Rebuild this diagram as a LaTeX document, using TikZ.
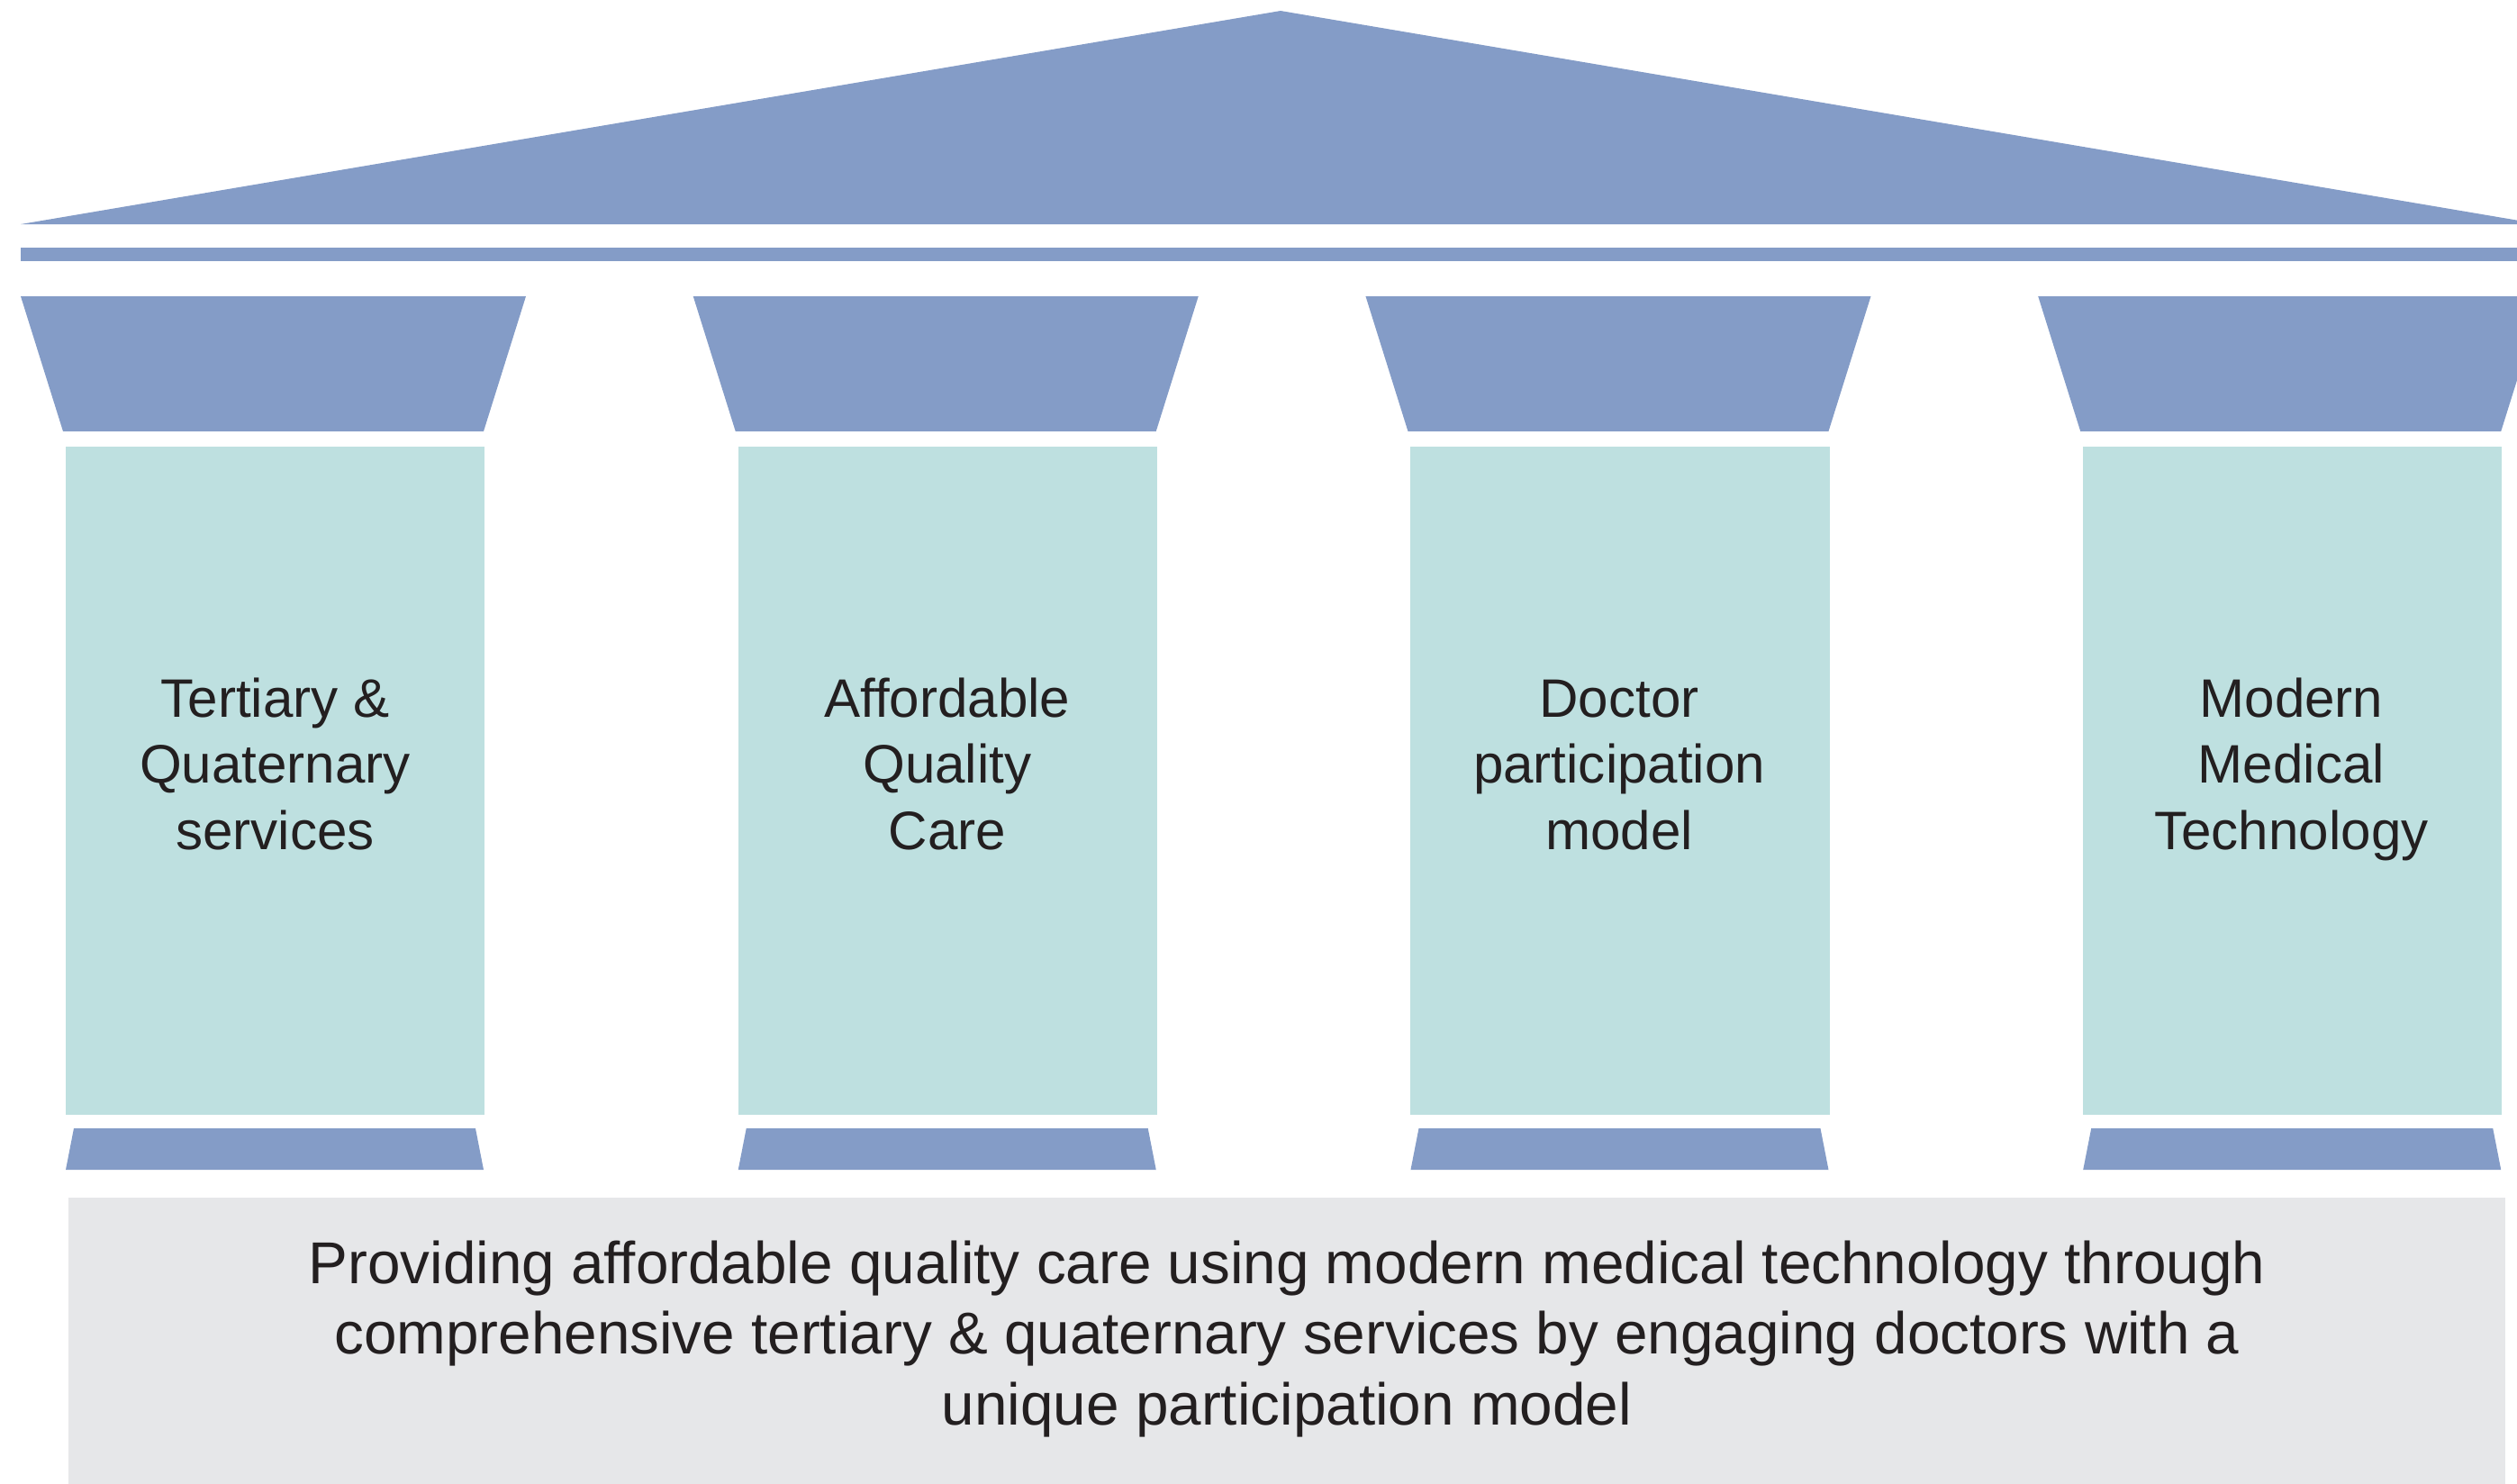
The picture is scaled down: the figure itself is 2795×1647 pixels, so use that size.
\documentclass[tikz,border=0pt]{standalone}
\usepackage{fontspec}
\setmainfont{Liberation Sans}
\definecolor{roofblue}{HTML}{849CC7}
\definecolor{shaft}{HTML}{BEE0E0}
\definecolor{basegrey}{HTML}{E6E7E9}
\definecolor{ink}{HTML}{231F20}
\begin{document}
\begin{tikzpicture}[x=0.01cm,y=-0.01cm,
  bluepart/.style={fill=roofblue,draw=none},
  shaftpart/.style={fill=shaft,draw=none},
  pillarlabel/.style={text=ink,align=center,anchor=base,inner sep=0pt,
    font={\fontsize{17.1pt}{20.8pt}\selectfont}},
  mission/.style={text=ink,align=center,anchor=base,inner sep=0pt,
    font={\fontsize{18.66pt}{22.2pt}\selectfont}}]
\useasboundingbox (0,0) rectangle (2795,1647);
\clip (0,0) rectangle (2795,1647);
% roof and architrave
\fill[bluepart] (23,249) -- (1422,12) -- (2821,249) -- cycle;
\fill[bluepart] (23,275) rectangle (2840,290);
% pillars
\foreach \i in {0,1,2,3}{
  \begin{scope}[xshift={\i*7.463cm}]
    \fill[bluepart] (23,329) -- (584,329) -- (537,479) -- (70,479) -- cycle;
    \fill[shaftpart] (73,496) rectangle (538,1238);
    \fill[bluepart] (82,1253) -- (528,1253) -- (537,1299) -- (73,1299) -- cycle;
  \end{scope}
}
% foundation
\fill[basegrey] (76,1330) rectangle (2782,1660);
% labels (base anchor = baseline of last line)
\node[pillarlabel] (t1) at (305.5,943) {Tertiary \&\\Quaternary\\services};
\node[pillarlabel] (t2) at (1051.8,943) {Affordable\\Quality\\Care};
\node[pillarlabel] (t3) at (1798.1,943) {Doctor\\participation\\model};
\node[pillarlabel] (t4) at (2544.4,943) {Modern\\Medical\\Technology};
\node[mission] (m) at (1429,1582) {Providing affordable quality care using modern medical technology through\\comprehensive tertiary \& quaternary services by engaging doctors with a\\unique participation model};
\end{tikzpicture}
\end{document}
